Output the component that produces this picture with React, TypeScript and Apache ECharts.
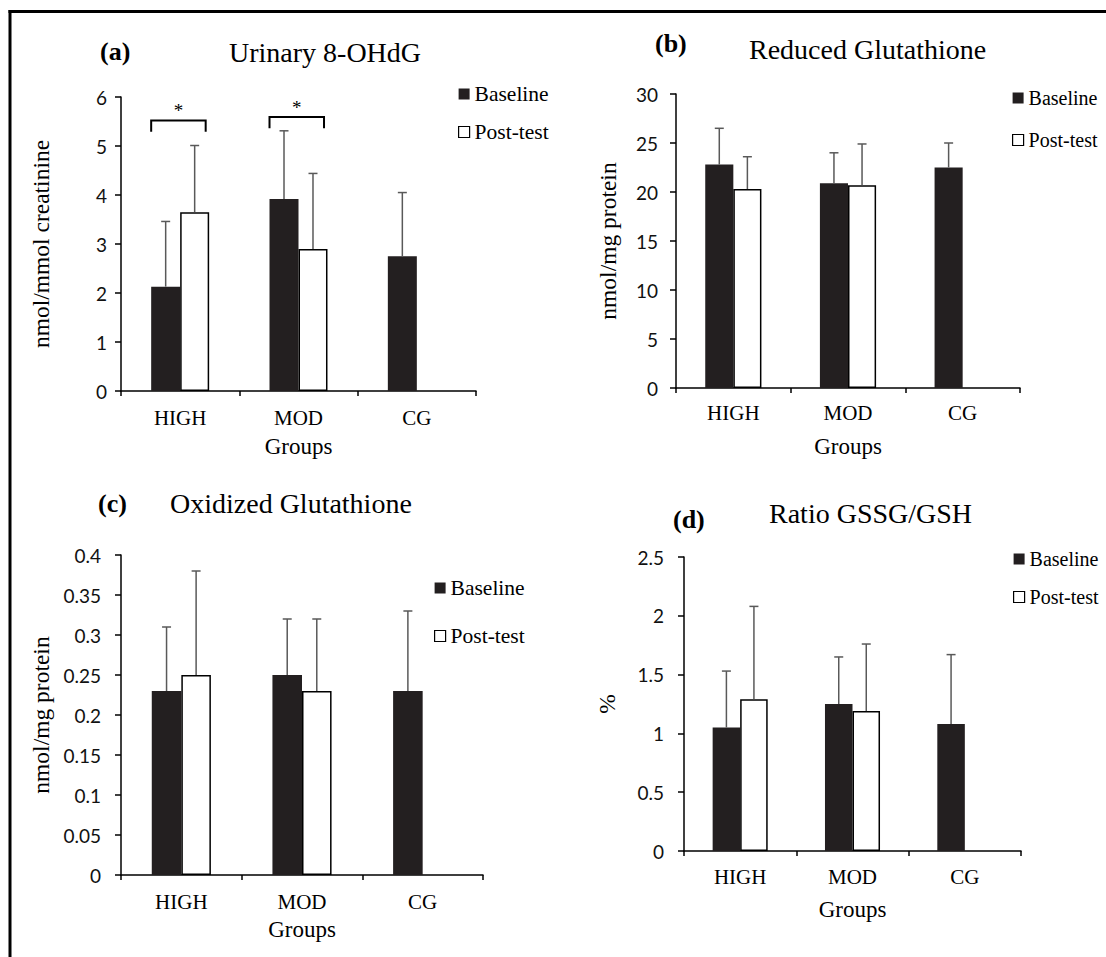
import React, { useEffect, useRef } from "react";
import * as echarts from "echarts";

// ---------- data ----------
const categories = ["HIGH", "MOD", "CG"];
const seriesNames = ["Baseline", "Post-test"];

// (a) Urinary 8-OHdG (mean and upper end of error bar)
const aBaseline = [2.13, 3.92, 2.75];
const aBaselineTop = [3.46, 5.31, 4.05];
const aPost = [3.65, 2.9, null];
const aPostTop = [5.01, 4.44, null];
const aTicks = { min: 0, max: 6, interval: 1 };

// (b) Reduced Glutathione
const bBaseline = [22.8, 20.9, 22.5];
const bBaselineTop = [26.5, 24.0, 25.0];
const bPost = [20.3, 20.7, null];
const bPostTop = [23.6, 24.9, null];
const bTicks = { min: 0, max: 30, interval: 5 };

// (c) Oxidized Glutathione
const cBaseline = [0.23, 0.25, 0.23];
const cBaselineTop = [0.31, 0.32, 0.33];
const cPost = [0.25, 0.23, null];
const cPostTop = [0.38, 0.32, null];
const cTicks = { min: 0, max: 0.4, interval: 0.05 };

// (d) Ratio GSSG/GSH
const dBaseline = [1.05, 1.25, 1.08];
const dBaselineTop = [1.53, 1.65, 1.67];
const dPost = [1.29, 1.19, null];
const dPostTop = [2.08, 1.76, null];
const dTicks = { min: 0, max: 2.5, interval: 0.5 };

// significance brackets in panel (a)
const sigCategories = [0, 1];
const sigLevels = [5.52, 5.59];
const sigLeg = 0.23;

// ---------- styling ----------
const SERIF = '"Liberation Serif", "Times New Roman", serif';
const SANS = 'Lato, "Open Sans", sans-serif';
const BAR_FRAC = 0.245;
const DARK = "#231f20";
const ERR = "#595959";

const panels = [
  {
    label: "(a)", title: "Urinary 8-OHdG", yName: "nmol/mmol creatinine",
    base: aBaseline, baseTop: aBaselineTop, post: aPost, postTop: aPostTop, ticks: aTicks,
    grid: { left: 121, top: 97, width: 355, height: 294 },
    labelPos: { left: 100, top: 38 }, titlePos: { left: 229, top: 38 },
    legendPos: { left: 458, top: 83, gap: 16, font: 21.5 },
    yNameGap: 68, xNameGap: 44, xLabelMargin: 16, yLabelMargin: 14,
  },
  {
    label: "(b)", title: "Reduced Glutathione", yName: "nmol/mg protein",
    base: bBaseline, baseTop: bBaselineTop, post: bPost, postTop: bPostTop, ticks: bTicks,
    grid: { left: 676, top: 94, width: 344, height: 294 },
    labelPos: { left: 655, top: 30 }, titlePos: { left: 749, top: 35 },
    legendPos: { left: 1012, top: 88, gap: 22, font: 20 },
    yNameGap: 56, xNameGap: 47, xLabelMargin: 14, yLabelMargin: 18,
  },
  {
    label: "(c)", title: "Oxidized Glutathione", yName: "nmol/mg protein",
    base: cBaseline, baseTop: cBaselineTop, post: cPost, postTop: cPostTop, ticks: cTicks,
    grid: { left: 121, top: 555, width: 362, height: 320 },
    labelPos: { left: 98, top: 490 }, titlePos: { left: 170, top: 489 },
    legendPos: { left: 434, top: 577, gap: 26, font: 21.5 },
    yNameGap: 68, xNameGap: 43, xLabelMargin: 16, yLabelMargin: 20,
  },
  {
    label: "(d)", title: "Ratio GSSG/GSH", yName: "%",
    base: dBaseline, baseTop: dBaselineTop, post: dPost, postTop: dPostTop, ticks: dTicks,
    grid: { left: 684, top: 557, width: 337, height: 294 },
    labelPos: { left: 673, top: 506 }, titlePos: { left: 769, top: 499 },
    legendPos: { left: 1013, top: 549, gap: 18, font: 20 },
    yNameGap: 65, xNameGap: 47, xLabelMargin: 15, yLabelMargin: 20,
  },
];

function errorSeries(idx: number, means: (number | null)[], tops: (number | null)[], side: number) {
  const data: number[][] = [];
  means.forEach((m, i) => {
    if (m != null && tops[i] != null) data.push([i, m, tops[i] as number]);
  });
  return {
    type: "custom",
    xAxisIndex: idx,
    yAxisIndex: idx,
    z: 5,
    silent: true,
    encode: { x: 0, y: [1, 2] },
    data,
    renderItem: (params: any, api: any) => {
      const cat = api.value(0);
      const p0 = api.coord([cat, api.value(1)]);
      const p1 = api.coord([cat, api.value(2)]);
      const band = api.size([1, 0])[0];
      const bw = band * BAR_FRAC;
      const x = p0[0] + (side * bw) / 2;
      const cap = 4.5;
      return {
        type: "group",
        children: [
          { type: "line", shape: { x1: x, y1: p0[1], x2: x, y2: p1[1] }, style: { stroke: ERR, lineWidth: 1.5 } },
          { type: "line", shape: { x1: x - cap, y1: p1[1], x2: x + cap, y2: p1[1] }, style: { stroke: ERR, lineWidth: 1.5 } },
        ],
      };
    },
  };
}

function buildOption() {
  const grid: any[] = [];
  const xAxis: any[] = [];
  const yAxis: any[] = [];
  const legend: any[] = [];
  const title: any[] = [];
  const series: any[] = [];

  panels.forEach((p, i) => {
    grid.push({ ...p.grid, containLabel: false });
    xAxis.push({
      type: "category",
      gridIndex: i,
      data: categories,
      boundaryGap: true,
      name: "Groups",
      nameLocation: "middle",
      nameGap: p.xNameGap,
      nameTextStyle: { fontFamily: SERIF, fontSize: 23, color: "#000" },
      axisLine: { show: true, lineStyle: { color: "#000", width: 1.5 } },
      axisTick: { show: true, length: 5, alignWithLabel: false, lineStyle: { color: "#000", width: 1.5 } },
      axisLabel: { fontFamily: SERIF, fontSize: 21, color: "#000", margin: p.xLabelMargin },
      splitLine: { show: false },
    });
    yAxis.push({
      type: "value",
      gridIndex: i,
      min: p.ticks.min,
      max: p.ticks.max,
      interval: p.ticks.interval,
      name: p.yName,
      nameLocation: "middle",
      nameGap: p.yNameGap,
      nameTextStyle: { fontFamily: SERIF, fontSize: 23.5, color: "#000" },
      axisLine: { show: true, lineStyle: { color: "#000", width: 1.5 } },
      axisTick: { show: true, length: 6, lineStyle: { color: "#000", width: 1.5 } },
      axisLabel: { fontFamily: SANS, fontSize: 19, color: "#111", margin: p.yLabelMargin },
      splitLine: { show: false },
    });
    legend.push({
      orient: "vertical",
      left: p.legendPos.left,
      top: p.legendPos.top,
      itemGap: p.legendPos.gap,
      itemWidth: 11,
      itemHeight: 11,
      padding: 0,
      icon: "rect",
      textStyle: { fontFamily: SERIF, fontSize: p.legendPos.font, color: "#000" },
      data: [
        { name: "Baseline", itemStyle: { color: DARK, borderWidth: 0 } },
        { name: "Post-test", itemStyle: { color: "#fff", borderColor: "#000", borderWidth: 1.2 } },
      ],
      selectedMode: false,
    });
    title.push({
      text: p.label,
      left: p.labelPos.left,
      top: p.labelPos.top,
      padding: 0,
      textStyle: { fontFamily: SERIF, fontSize: 26, fontWeight: "bold", color: "#000" },
    });
    title.push({
      text: p.title,
      left: p.titlePos.left,
      top: p.titlePos.top,
      padding: 0,
      textStyle: { fontFamily: SERIF, fontSize: 28, fontWeight: "normal", color: "#000" },
    });
    series.push({
      name: seriesNames[0],
      type: "bar",
      xAxisIndex: i,
      yAxisIndex: i,
      data: p.base,
      barWidth: `${BAR_FRAC * 100}%`,
      barGap: "0%",
      itemStyle: { color: DARK },
      silent: true,
    });
    series.push({
      name: seriesNames[1],
      type: "bar",
      xAxisIndex: i,
      yAxisIndex: i,
      data: p.post.map((v) => (v == null ? "-" : v)),
      barWidth: `${BAR_FRAC * 100}%`,
      barGap: "0%",
      itemStyle: { color: "#fff", borderColor: "#000", borderWidth: 1.5 },
      silent: true,
    });
    series.push(errorSeries(i, p.base, p.baseTop, -1));
    series.push(errorSeries(i, p.post, p.postTop, 1));
  });

  // significance brackets for panel (a)
  series.push({
    type: "custom",
    xAxisIndex: 0,
    yAxisIndex: 0,
    z: 6,
    silent: true,
    data: sigCategories.map((c, k) => [c, sigLevels[k]]),
    renderItem: (params: any, api: any) => {
      const cat = api.value(0);
      const lvl = api.value(1);
      const p = api.coord([cat, lvl]);
      const pb = api.coord([cat, lvl - sigLeg]);
      const band = api.size([1, 0])[0];
      const bw = band * BAR_FRAC;
      const xl = p[0] - bw;
      const xr = p[0] + bw * 0.88;
      return {
        type: "group",
        children: [
          {
            type: "polyline",
            shape: { points: [[xl, pb[1]], [xl, p[1]], [xr, p[1]], [xr, pb[1]]] },
            style: { stroke: "#000", lineWidth: 2, fill: null },
          },
          {
            type: "text",
            style: {
              text: "*",
              x: (xl + xr) / 2,
              y: p[1] - 0.5,
              align: "center",
              verticalAlign: "bottom",
              font: `19px ${SERIF}`,
              fill: "#000",
            },
          },
        ],
      };
    },
  });

  return {
    animation: false,
    backgroundColor: "#fff",
    grid,
    xAxis,
    yAxis,
    legend,
    title,
    series,
    graphic: [
      { type: "line", shape: { x1: 8.5, y1: 11.5, x2: 1106, y2: 11.5 }, style: { stroke: "#000", lineWidth: 3 } },
      { type: "line", shape: { x1: 10, y1: 10, x2: 10, y2: 957 }, style: { stroke: "#000", lineWidth: 3 } },
    ],
  };
}

export default function App() {
  const ref = useRef<HTMLDivElement>(null);
  useEffect(() => {
    if (!ref.current) return;
    const chart = echarts.init(ref.current, undefined, { renderer: "svg" });
    chart.setOption(buildOption() as any);
    return () => chart.dispose();
  }, []);
  return (
    <div
      ref={ref}
      style={{ position: "absolute", left: 0, top: 0, width: 1106, height: 957, background: "#fff" }}
    />
  );
}
